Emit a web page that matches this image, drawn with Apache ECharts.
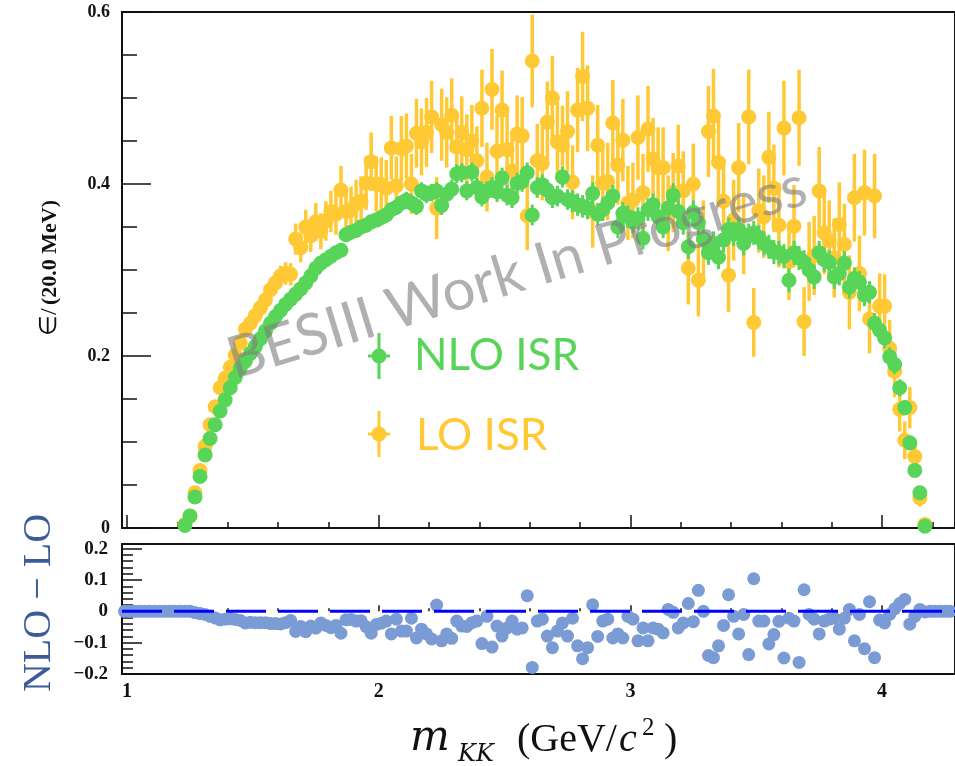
<!DOCTYPE html>
<html><head><meta charset="utf-8">
<script src="https://cdn.jsdelivr.net/npm/echarts@6/dist/echarts.min.js"></script>
<style>html,body{margin:0;padding:0;background:#fff}#c{width:955px;height:766px}</style>
</head><body><div id="c"></div>
<script>
// ---- data ----
const binStart = 1.23;      // centre of first top-panel bin (GeV/c^2)
const binWidth = 0.02;      // 20 MeV bins
const diffStart = 0.99;     // centre of first bottom-panel bin

const nloEff = [
0.003,0.014,0.036,0.060,0.085,0.104,0.120,0.136,0.149,0.163,
0.175,0.186,0.194,0.203,0.211,0.220,0.229,0.238,0.246,0.253,
0.260,0.266,0.272,0.278,0.285,0.293,0.302,0.308,0.312,0.316,
0.320,0.323,0.341,0.344,0.346,0.350,0.352,0.356,0.358,0.361,
0.364,0.370,0.373,0.378,0.381,0.378,0.374,0.392,0.388,0.390,
0.392,0.375,0.388,0.394,0.412,0.413,0.392,0.414,0.396,0.385,
0.392,0.396,0.391,0.407,0.387,0.384,0.401,0.403,0.413,0.364,
0.396,0.399,0.393,0.384,0.386,0.408,0.382,0.380,0.376,0.374,
0.372,0.389,0.365,0.370,0.378,0.386,0.350,0.366,0.362,0.356,
0.360,0.337,0.370,0.376,0.362,0.350,0.372,0.387,0.368,0.355,
0.327,0.367,0.355,0.336,0.320,0.331,0.315,0.335,0.347,0.342,
0.347,0.331,0.340,0.343,0.338,0.331,0.327,0.321,0.320,0.316,
0.288,0.320,0.314,0.309,0.300,0.292,0.320,0.312,0.309,0.292,
0.296,0.308,0.280,0.290,0.286,0.271,0.274,0.238,0.230,0.221,
0.199,0.190,0.163,0.140,0.099,0.067,0.041,0.002];

const nloErr = [
0.001,0.002,0.002,0.002,0.003,0.003,0.003,0.003,0.003,0.003,
0.003,0.004,0.004,0.004,0.004,0.004,0.004,0.005,0.005,0.005,
0.005,0.005,0.005,0.006,0.006,0.006,0.006,0.006,0.007,0.007,
0.007,0.007,0.007,0.008,0.008,0.008,0.008,0.008,0.008,0.009,
0.009,0.009,0.009,0.009,0.010,0.010,0.010,0.010,0.010,0.010,
0.010,0.011,0.011,0.011,0.011,0.011,0.011,0.011,0.011,0.011,
0.011,0.012,0.012,0.012,0.012,0.012,0.012,0.012,0.012,0.012,
0.012,0.012,0.012,0.012,0.012,0.012,0.012,0.013,0.013,0.013,
0.013,0.013,0.013,0.013,0.013,0.013,0.013,0.013,0.013,0.013,
0.013,0.013,0.013,0.013,0.013,0.013,0.013,0.014,0.014,0.014,
0.014,0.014,0.014,0.014,0.014,0.014,0.014,0.014,0.014,0.014,
0.014,0.014,0.014,0.014,0.014,0.014,0.014,0.014,0.014,0.014,
0.014,0.014,0.014,0.014,0.014,0.014,0.014,0.014,0.014,0.014,
0.014,0.014,0.013,0.013,0.013,0.013,0.013,0.012,0.012,0.012,
0.011,0.011,0.010,0.009,0.008,0.007,0.005,0.002];

const loEff = [
0.004,0.014,0.041,0.067,0.095,0.120,0.141,0.163,0.174,0.187,
0.201,0.215,0.231,0.238,0.247,0.256,0.265,0.277,0.285,0.293,
0.296,0.295,0.336,0.326,0.350,0.340,0.356,0.345,0.357,0.368,
0.365,0.393,0.368,0.370,0.377,0.380,0.401,0.426,0.400,0.399,
0.395,0.442,0.398,0.441,0.444,0.400,0.459,0.449,0.460,0.478,
0.372,0.469,0.460,0.480,0.443,0.460,0.440,0.450,0.427,0.488,
0.408,0.510,0.438,0.486,0.440,0.415,0.458,0.456,0.363,0.543,
0.427,0.424,0.472,0.500,0.449,0.445,0.461,0.402,0.486,0.525,
0.488,0.368,0.445,0.401,0.403,0.471,0.422,0.451,0.378,0.381,
0.454,0.390,0.464,0.429,0.419,0.419,0.366,0.390,0.421,0.392,
0.302,0.400,0.288,0.336,0.461,0.479,0.425,0.380,0.294,0.358,
0.419,0.341,0.478,0.239,0.369,0.362,0.431,0.395,0.352,0.465,
0.310,0.351,0.477,0.240,0.310,0.317,0.392,0.343,0.334,0.314,
0.353,0.330,0.274,0.384,0.296,0.390,0.243,0.386,0.258,0.258,
0.209,0.182,0.138,0.102,0.140,0.083,0.035,0.004];

const loErr = [
0.002,0.003,0.004,0.004,0.005,0.005,0.006,0.006,0.007,0.007,
0.008,0.008,0.009,0.009,0.010,0.010,0.011,0.011,0.012,0.012,
0.013,0.013,0.018,0.017,0.020,0.019,0.022,0.021,0.023,0.024,
0.024,0.028,0.026,0.027,0.028,0.029,0.031,0.034,0.032,0.032,
0.033,0.037,0.034,0.038,0.038,0.035,0.040,0.039,0.040,0.042,
0.036,0.042,0.041,0.043,0.040,0.042,0.041,0.042,0.040,0.045,
0.040,0.047,0.042,0.046,0.043,0.041,0.045,0.045,0.040,0.054,
0.043,0.043,0.047,0.049,0.046,0.046,0.047,0.043,0.049,0.052,
0.050,0.042,0.047,0.044,0.045,0.050,0.046,0.048,0.043,0.044,
0.049,0.045,0.050,0.048,0.047,0.047,0.044,0.046,0.048,0.046,
0.042,0.047,0.042,0.045,0.053,0.055,0.051,0.048,0.043,0.047,
0.052,0.046,0.055,0.040,0.049,0.048,0.053,0.051,0.049,0.055,
0.045,0.048,0.056,0.040,0.046,0.046,0.051,0.048,0.047,0.046,
0.049,0.047,0.043,0.051,0.044,0.050,0.040,0.049,0.038,0.037,
0.033,0.030,0.026,0.022,0.024,0.017,0.010,0.004];

const diffVals = [
0,0,0,0,0,0,0,0,0,0,0,0,
0.000,0.000,-0.004,-0.007,-0.010,-0.016,-0.021,-0.027,-0.025,-0.024,
-0.026,-0.029,-0.037,-0.035,-0.036,-0.036,-0.036,-0.039,-0.039,-0.040,
-0.036,-0.029,-0.064,-0.048,-0.065,-0.047,-0.054,-0.037,-0.045,-0.052,
-0.045,-0.070,-0.027,-0.026,-0.031,-0.030,-0.049,-0.070,-0.042,-0.038,
-0.031,-0.072,-0.025,-0.063,-0.063,-0.022,-0.085,-0.057,-0.072,-0.088,
0.020,-0.094,-0.072,-0.086,-0.031,-0.047,-0.048,-0.036,-0.031,-0.103,
-0.016,-0.114,-0.047,-0.079,-0.053,-0.031,-0.057,-0.053,0.050,-0.179,
-0.031,-0.025,-0.079,-0.116,-0.063,-0.037,-0.079,-0.022,-0.110,-0.151,
-0.116,0.021,-0.080,-0.031,-0.025,-0.085,-0.072,-0.085,-0.016,-0.025,
-0.094,-0.053,-0.094,-0.053,-0.057,-0.069,0.006,-0.003,-0.053,-0.037,
0.025,-0.033,0.067,0.000,-0.141,-0.148,-0.110,-0.045,0.053,-0.016,
-0.072,-0.010,-0.138,0.104,-0.031,-0.031,-0.104,-0.074,-0.032,-0.149,
-0.022,-0.031,-0.163,0.069,-0.010,-0.025,-0.072,-0.031,-0.025,-0.022,
-0.057,-0.022,0.006,-0.094,-0.010,-0.119,0.031,-0.148,-0.028,-0.037,
-0.010,0.008,0.025,0.038,-0.041,-0.016,0.006,-0.002,
0,0,0,0,0];

const xMajorTicks = [1, 2, 3, 4];
const xMajorLabels = ['1', '2', '3', '4'];
const xMinorTicks = [1.2,1.4,1.6,1.8,2.2,2.4,2.6,2.8,3.2,3.4,3.6,3.8,4.2];
const topYMajor = [0, 0.2, 0.4, 0.6];
const topYLabels = ['0', '0.2', '0.4', '0.6'];
const topYMinor = [0.05,0.1,0.15,0.25,0.3,0.35,0.45,0.5,0.55];
const botYMajor = [-0.2, -0.1, 0, 0.1, 0.2];
const botYLabels = ['\u22120.2', '\u22120.1', '0', '0.1', '0.2'];
const botYMinor = [-0.18,-0.16,-0.14,-0.12,-0.08,-0.06,-0.04,-0.02,0.02,0.04,0.06,0.08,0.12,0.14,0.16,0.18];

// ---- build ----
const GREEN = '#58d558', YELLOW = '#ffc935', BLUEPT = '#7b9bd4';
const xc = i => +(binStart + i * binWidth).toFixed(2);
const loData = loEff.map((v, i) => [xc(i), v, loErr[i]]);
const nloData = nloEff.map((v, i) => [xc(i), v, nloErr[i]]);
const diffData = diffVals.map((v, i) => [+(diffStart + i * binWidth).toFixed(2), v]);

const XMIN = 0.98, XMAX = 4.2896;
const serif = '"Liberation Serif","Times New Roman",serif';
const lab = (vals, names) => v => { const k = vals.findIndex(t => Math.abs(t - v) < 1e-6); return k >= 0 ? names[k] : ''; };
const tickStyle = { color: '#111', width: 1.5 };

function xAx(grid, ticks, len, labels) {
  return { type: 'value', gridIndex: grid, position: 'bottom', min: XMIN, max: XMAX,
    axisLine: { show: false }, splitLine: { show: false },
    axisTick: { show: true, inside: true, length: len, customValues: ticks, lineStyle: tickStyle },
    axisLabel: labels ? { show: true, customValues: ticks, formatter: lab(ticks, labels), margin: 8,
      fontFamily: serif, fontWeight: 'bold', fontSize: 20, color: '#111' } : { show: false } };
}
function yAx(grid, min, max, ticks, len, labels, fs, margin) {
  return { type: 'value', gridIndex: grid, position: 'left', min: min, max: max,
    axisLine: { show: false }, splitLine: { show: false },
    axisTick: { show: true, inside: true, length: len, customValues: ticks, lineStyle: tickStyle },
    axisLabel: labels ? { show: true, customValues: ticks, formatter: lab(ticks, labels), margin: margin,
      fontFamily: serif, fontWeight: 'bold', fontSize: fs, color: '#111' } : { show: false } };
}
function errBar(color, width) {
  return function (params, api) {
    const x = api.value(0), v = api.value(1), e = api.value(2);
    const p1 = api.coord([x, v - e]), p2 = api.coord([x, v + e]);
    return { type: 'line', shape: { x1: p1[0], y1: p1[1], x2: p2[0], y2: p2[1] },
      style: { stroke: color, lineWidth: width } };
  };
}

const chart = echarts.init(document.getElementById('c'), null, { renderer: 'canvas' });
chart.setOption({
  animation: false,
  backgroundColor: '#fff',
  grid: [
    { left: 122, top: 12, width: 836, height: 516, show: true, borderColor: '#111', borderWidth: 2, backgroundColor: 'transparent' },
    { left: 122, top: 544, width: 836, height: 130, show: true, borderColor: '#111', borderWidth: 2, backgroundColor: 'transparent' }
  ],
  xAxis: [
    xAx(0, xMajorTicks, 13, null),
    xAx(0, xMinorTicks, 6, null),
    xAx(1, xMajorTicks, 6, xMajorLabels),
    xAx(1, xMinorTicks, 3, null)
  ],
  yAxis: [
    yAx(0, 0, 0.6, topYMajor, 29, topYLabels, 18, 12),
    yAx(0, 0, 0.6, topYMinor, 15, null),
    yAx(1, -0.2, 0.215, botYMajor, 20, botYLabels, 19, 14),
    yAx(1, -0.2, 0.215, botYMinor, 11, null)
  ],
  series: [
    { type: 'custom', xAxisIndex: 0, yAxisIndex: 0, z: 2, renderItem: errBar(YELLOW, 3.5),
      encode: { x: 0, y: 1 }, data: loData },
    { type: 'scatter', xAxisIndex: 0, yAxisIndex: 0, z: 3, symbol: 'circle', symbolSize: 15,
      itemStyle: { color: YELLOW, opacity: 1 }, data: loData.map(d => [d[0], d[1]]) },
    { type: 'custom', xAxisIndex: 0, yAxisIndex: 0, z: 4, renderItem: errBar(GREEN, 3),
      encode: { x: 0, y: 1 }, data: nloData },
    { type: 'scatter', xAxisIndex: 0, yAxisIndex: 0, z: 5, symbol: 'circle', symbolSize: 15,
      itemStyle: { color: GREEN, opacity: 1 }, data: nloData.map(d => [d[0], d[1]]) },
    { type: 'scatter', xAxisIndex: 2, yAxisIndex: 2, z: 3, symbol: 'circle', symbolSize: 13,
      itemStyle: { color: BLUEPT, opacity: 1 }, data: diffData },
    { type: 'line', xAxisIndex: 2, yAxisIndex: 2, z: 6, symbol: 'none', silent: true,
      lineStyle: { color: '#0000ff', width: 3, type: [40, 12] }, data: [[XMIN, 0], [XMAX, 0]] }
  ],
  graphic: [
    { type: 'text', x: 517, y: 273, rotation: 17 * Math.PI / 180, z: 100,
      style: { text: 'BESIII Work In Progress', font: '58px Lato', fill: 'rgba(128,128,128,0.62)', align: 'center', verticalAlign: 'middle' } },
    { type: 'text', x: 50, y: 268, rotation: Math.PI / 2, z: 100,
      style: { text: '{e|\u2208/} {b|(20.0 MeV)}', fill: '#111', align: 'center', verticalAlign: 'middle',
        rich: { e: { font: '24px ' + serif, fill: '#111' }, b: { font: 'bold 22px ' + serif, fill: '#111' } } } },
    { type: 'text', x: 39, y: 603, rotation: Math.PI / 2, z: 100,
      style: { text: 'NLO \u2212 LO', font: '40px ' + serif, fill: '#3b5b9b', align: 'center', verticalAlign: 'middle' } },
    // legend
    { type: 'line', z: 100, shape: { x1: 379, y1: 333, x2: 379, y2: 379 }, style: { stroke: GREEN, lineWidth: 3 } },
    { type: 'line', z: 100, shape: { x1: 368, y1: 356, x2: 390, y2: 356 }, style: { stroke: GREEN, lineWidth: 3 } },
    { type: 'circle', z: 100, shape: { cx: 379, cy: 356, r: 7.5 }, style: { fill: GREEN } },
    { type: 'text', x: 414, y: 356, z: 100, style: { text: 'NLO ISR', font: '44px Lato', fill: GREEN, align: 'left', verticalAlign: 'middle' } },
    { type: 'line', z: 100, shape: { x1: 379, y1: 411, x2: 379, y2: 457 }, style: { stroke: YELLOW, lineWidth: 3 } },
    { type: 'line', z: 100, shape: { x1: 368, y1: 434, x2: 390, y2: 434 }, style: { stroke: YELLOW, lineWidth: 3 } },
    { type: 'circle', z: 100, shape: { cx: 379, cy: 434, r: 7.5 }, style: { fill: YELLOW } },
    { type: 'text', x: 416, y: 436, z: 100, style: { text: 'LO ISR', font: '44px Lato', fill: YELLOW, align: 'left', verticalAlign: 'middle' } },
    // x-axis title
    { type: 'text', x: 410, y: 739, z: 100, style: { text: 'm', font: 'italic 42px "DejaVu Serif"', fill: '#111', align: 'left', verticalAlign: 'middle' } },
    { type: 'text', x: 458, y: 755, z: 100, style: { text: 'KK', font: 'italic 24px "DejaVu Serif"', fill: '#111', align: 'left', verticalAlign: 'middle' } },
    { type: 'text', x: 517, y: 740, z: 100, style: { text: '(GeV/', font: '40px ' + serif, fill: '#111', align: 'left', verticalAlign: 'middle' } },
    { type: 'text', x: 619, y: 740, z: 100, style: { text: 'c', font: 'italic 40px ' + serif, fill: '#111', align: 'left', verticalAlign: 'middle' } },
    { type: 'text', x: 642, y: 728, z: 100, style: { text: '2', font: '25px ' + serif, fill: '#111', align: 'left', verticalAlign: 'middle' } },
    { type: 'text', x: 664, y: 740, z: 100, style: { text: ')', font: '40px ' + serif, fill: '#111', align: 'left', verticalAlign: 'middle' } }
  ]
});
</script></body></html>
